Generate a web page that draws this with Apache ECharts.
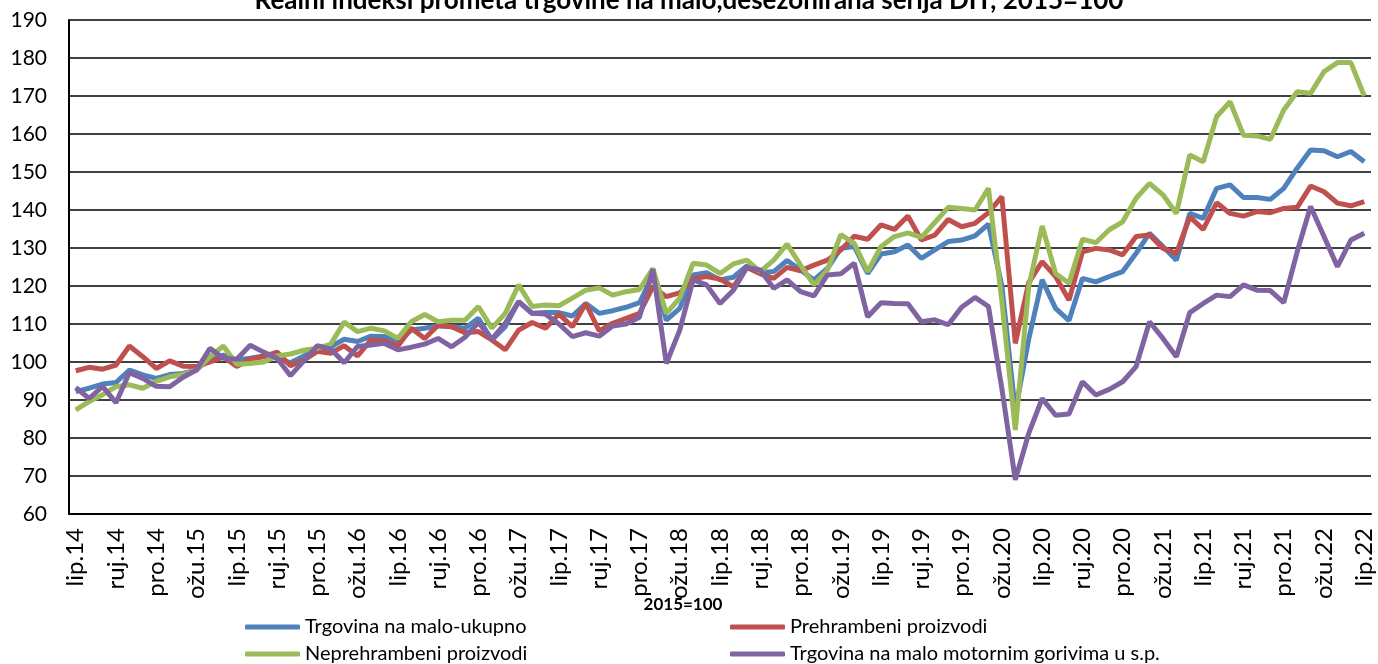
<!DOCTYPE html>
<html>
<head>
<meta charset="utf-8">
<script src="https://cdn.jsdelivr.net/npm/echarts@6/dist/echarts.min.js"></script>
<style>
  html, body { margin: 0; padding: 0; background: #fff; }
  #chart { width: 1378px; height: 664px; }
</style>
</head>
<body>
<div id="chart"></div>
<script>
// monthly, lip.14 .. lip.22
let monthNames = ['sij', 'velj', 'ožu', 'tra', 'svi', 'lip', 'srp', 'kol', 'ruj', 'lis', 'stu', 'pro'];
let categories = [];
for (let k = 0; k < 97; k++) {
  let m = (5 + k) % 12;
  let y = 14 + Math.floor((5 + k) / 12);
  categories.push(monthNames[m] + '.' + y);
}

let ukupno = [92.2, 93.1, 94.2, 94.6, 97.9, 96.6, 95.7, 96.7, 97.0, 97.9, 101.0, 101.8, 100.5, 101.0, 101.6, 101.0, 99.8,
  101.6, 103.6, 104.0, 106.0, 105.4, 106.8, 106.7, 105.4, 108.4, 108.9, 109.5, 109.3, 108.9, 111.5, 105.8, 109.3, 115.9,
  112.8, 113.0, 113.0, 112.1, 115.4, 112.8, 113.5, 114.4, 115.6, 122.9, 111.0, 114.1, 122.9, 123.5, 121.6, 122.3, 125.3,
  123.5, 123.8, 126.7, 124.2, 121.6, 124.6, 129.9, 130.4, 123.3, 128.4, 129.0, 130.8, 127.3, 129.5, 131.7, 132.1, 133.2,
  136.3, 120.0, 87.0, 106.0, 121.6, 114.1, 110.9, 122.0, 121.1, 122.5, 123.8, 128.6, 133.9, 130.4, 126.8, 139.1, 137.8,
  145.7, 146.6, 143.3, 143.3, 142.8, 145.7, 151.0, 155.8, 155.6, 154.0, 155.4, 152.7];

let prehrambeni = [97.7, 98.6, 98.1, 99.2, 104.2, 101.4, 98.3, 100.3, 98.9, 98.8, 100.0, 101.3, 98.8, 100.8, 101.4, 102.6,
  99.0, 100.5, 102.8, 102.3, 104.3, 101.6, 105.8, 105.5, 104.2, 108.9, 106.2, 109.7, 109.3, 107.7, 108.0, 105.8, 103.2,
  108.4, 110.4, 108.9, 112.6, 109.3, 115.4, 108.2, 110.2, 111.5, 112.8, 119.8, 117.2, 118.2, 122.0, 122.5, 121.8, 119.8,
  124.9, 123.2, 122.0, 124.9, 124.0, 125.5, 126.8, 129.5, 133.1, 132.3, 136.1, 134.9, 138.4, 132.1, 133.4, 137.5, 135.6,
  136.5, 139.3, 143.5, 104.9, 120.9, 126.4, 122.5, 116.3, 129.0, 129.9, 129.5, 128.2, 133.0, 133.4, 129.9, 128.6, 138.2,
  134.9, 141.9, 139.1, 138.4, 139.6, 139.3, 140.4, 140.7, 146.3, 144.8, 141.8, 141.1, 142.2];

let neprehrambeni = [87.4, 89.6, 91.4, 93.5, 94.0, 93.1, 94.9, 96.1, 96.7, 97.9, 101.4, 104.2, 99.4, 99.6, 100.0, 101.6,
  102.1, 103.1, 103.6, 104.7, 110.5, 108.0, 108.9, 108.2, 106.2, 110.6, 112.5, 110.6, 111.0, 111.0, 114.6, 108.9, 112.8,
  120.3, 114.6, 115.0, 114.8, 116.8, 118.9, 119.5, 117.6, 118.5, 119.1, 124.6, 112.8, 116.8, 126.0, 125.5, 123.3, 125.8,
  126.8, 123.8, 126.8, 131.0, 125.5, 120.3, 124.2, 133.5, 131.2, 123.8, 130.4, 133.0, 134.0, 132.8, 136.7, 140.7, 140.4,
  140.0, 145.7, 116.0, 82.1, 119.8, 135.8, 123.3, 120.7, 132.3, 131.4, 134.8, 136.9, 143.1, 147.0, 144.0, 139.1, 154.5,
  152.7, 164.6, 168.5, 159.7, 159.5, 158.6, 166.3, 171.1, 170.7, 176.4, 178.8, 178.8, 170.0];

let gorivo = [93.3, 90.4, 93.6, 89.3, 97.2, 95.7, 93.6, 93.5, 96.0, 97.9, 103.6, 101.0, 100.7, 104.4, 102.6, 101.0, 96.4,
  100.3, 104.3, 103.4, 99.8, 104.1, 104.5, 104.9, 103.2, 103.9, 104.7, 106.2, 104.0, 106.5, 110.4, 106.0, 110.2, 115.9,
  112.8, 112.6, 110.0, 106.7, 107.7, 106.8, 109.5, 110.0, 111.8, 124.4, 99.6, 108.4, 121.6, 120.3, 115.4, 118.9, 124.9,
  124.2, 119.4, 121.6, 118.5, 117.4, 122.9, 123.2, 126.0, 111.9, 115.6, 115.4, 115.3, 110.6, 111.1, 109.8, 114.4, 117.0,
  114.6, 93.0, 69.0, 81.2, 90.4, 86.0, 86.3, 94.8, 91.3, 92.8, 94.8, 98.8, 110.6, 106.2, 101.4, 113.0, 115.4, 117.6,
  117.2, 120.3, 118.9, 118.8, 115.6, 129.0, 140.9, 133.0, 125.1, 132.1, 133.9];

let names = ['Trgovina na malo-ukupno', 'Prehrambeni proizvodi', 'Neprehrambeni proizvodi',
  'Trgovina na malo motornim gorivima u s.p.'];
let colors = ['#4F81BD', '#C0504D', '#9BBB59', '#8064A2'];
let values = [ukupno, prehrambeni, neprehrambeni, gorivo];

let font = 'Lato, "Open Sans", sans-serif';
let chart = echarts.init(document.getElementById('chart'));

let legendBase = {
  orient: 'vertical',
  top: 617,
  itemWidth: 55,
  itemHeight: 5,
  itemGap: 7,
  icon: 'roundRect',
  padding: 0,
  textStyle: { fontFamily: font, fontSize: 20, color: '#000' }
};

chart.setOption({
  animation: false,
  color: colors,
  title: {
    text: 'Realni indeksi prometa trgovine na malo,desezonirana serija DIT, 2015=100',
    left: 'center',
    top: -17,
    textStyle: { fontFamily: font, fontSize: 26, fontWeight: 'bold', color: '#000' }
  },
  legend: [
    Object.assign({ left: 245, data: [names[0], names[2]] }, legendBase),
    Object.assign({ left: 730, data: [names[1], names[3]] }, legendBase)
  ],
  graphic: [{
    type: 'text',
    x: 683,
    y: 605,
    style: {
      text: '2015=100',
      align: 'center',
      verticalAlign: 'middle',
      fontFamily: font,
      fontSize: 17,
      fontWeight: 'bold',
      fill: '#000'
    }
  }],
  grid: { left: 69, right: 7, top: 20, bottom: 150, containLabel: false },
  xAxis: {
    type: 'category',
    data: categories,
    boundaryGap: true,
    axisLine: { lineStyle: { color: '#000', width: 2 } },
    axisTick: { show: false },
    axisLabel: { interval: 2, rotate: 90, margin: 14, fontFamily: font, fontSize: 24, color: '#000' }
  },
  yAxis: {
    type: 'value',
    min: 60,
    max: 190,
    interval: 10,
    axisLine: { show: true, lineStyle: { color: '#000', width: 2 } },
    axisTick: { show: false },
    axisLabel: { margin: 22, fontFamily: font, fontSize: 21, color: '#000' },
    splitLine: { lineStyle: { color: '#000', width: 1.5 } }
  },
  series: values.map((v, k) => ({
    name: names[k],
    type: 'line',
    data: v,
    symbol: 'none',
    lineStyle: { width: 5, color: colors[k] },
    itemStyle: { color: colors[k] }
  }))
});
</script>
</body>
</html>
